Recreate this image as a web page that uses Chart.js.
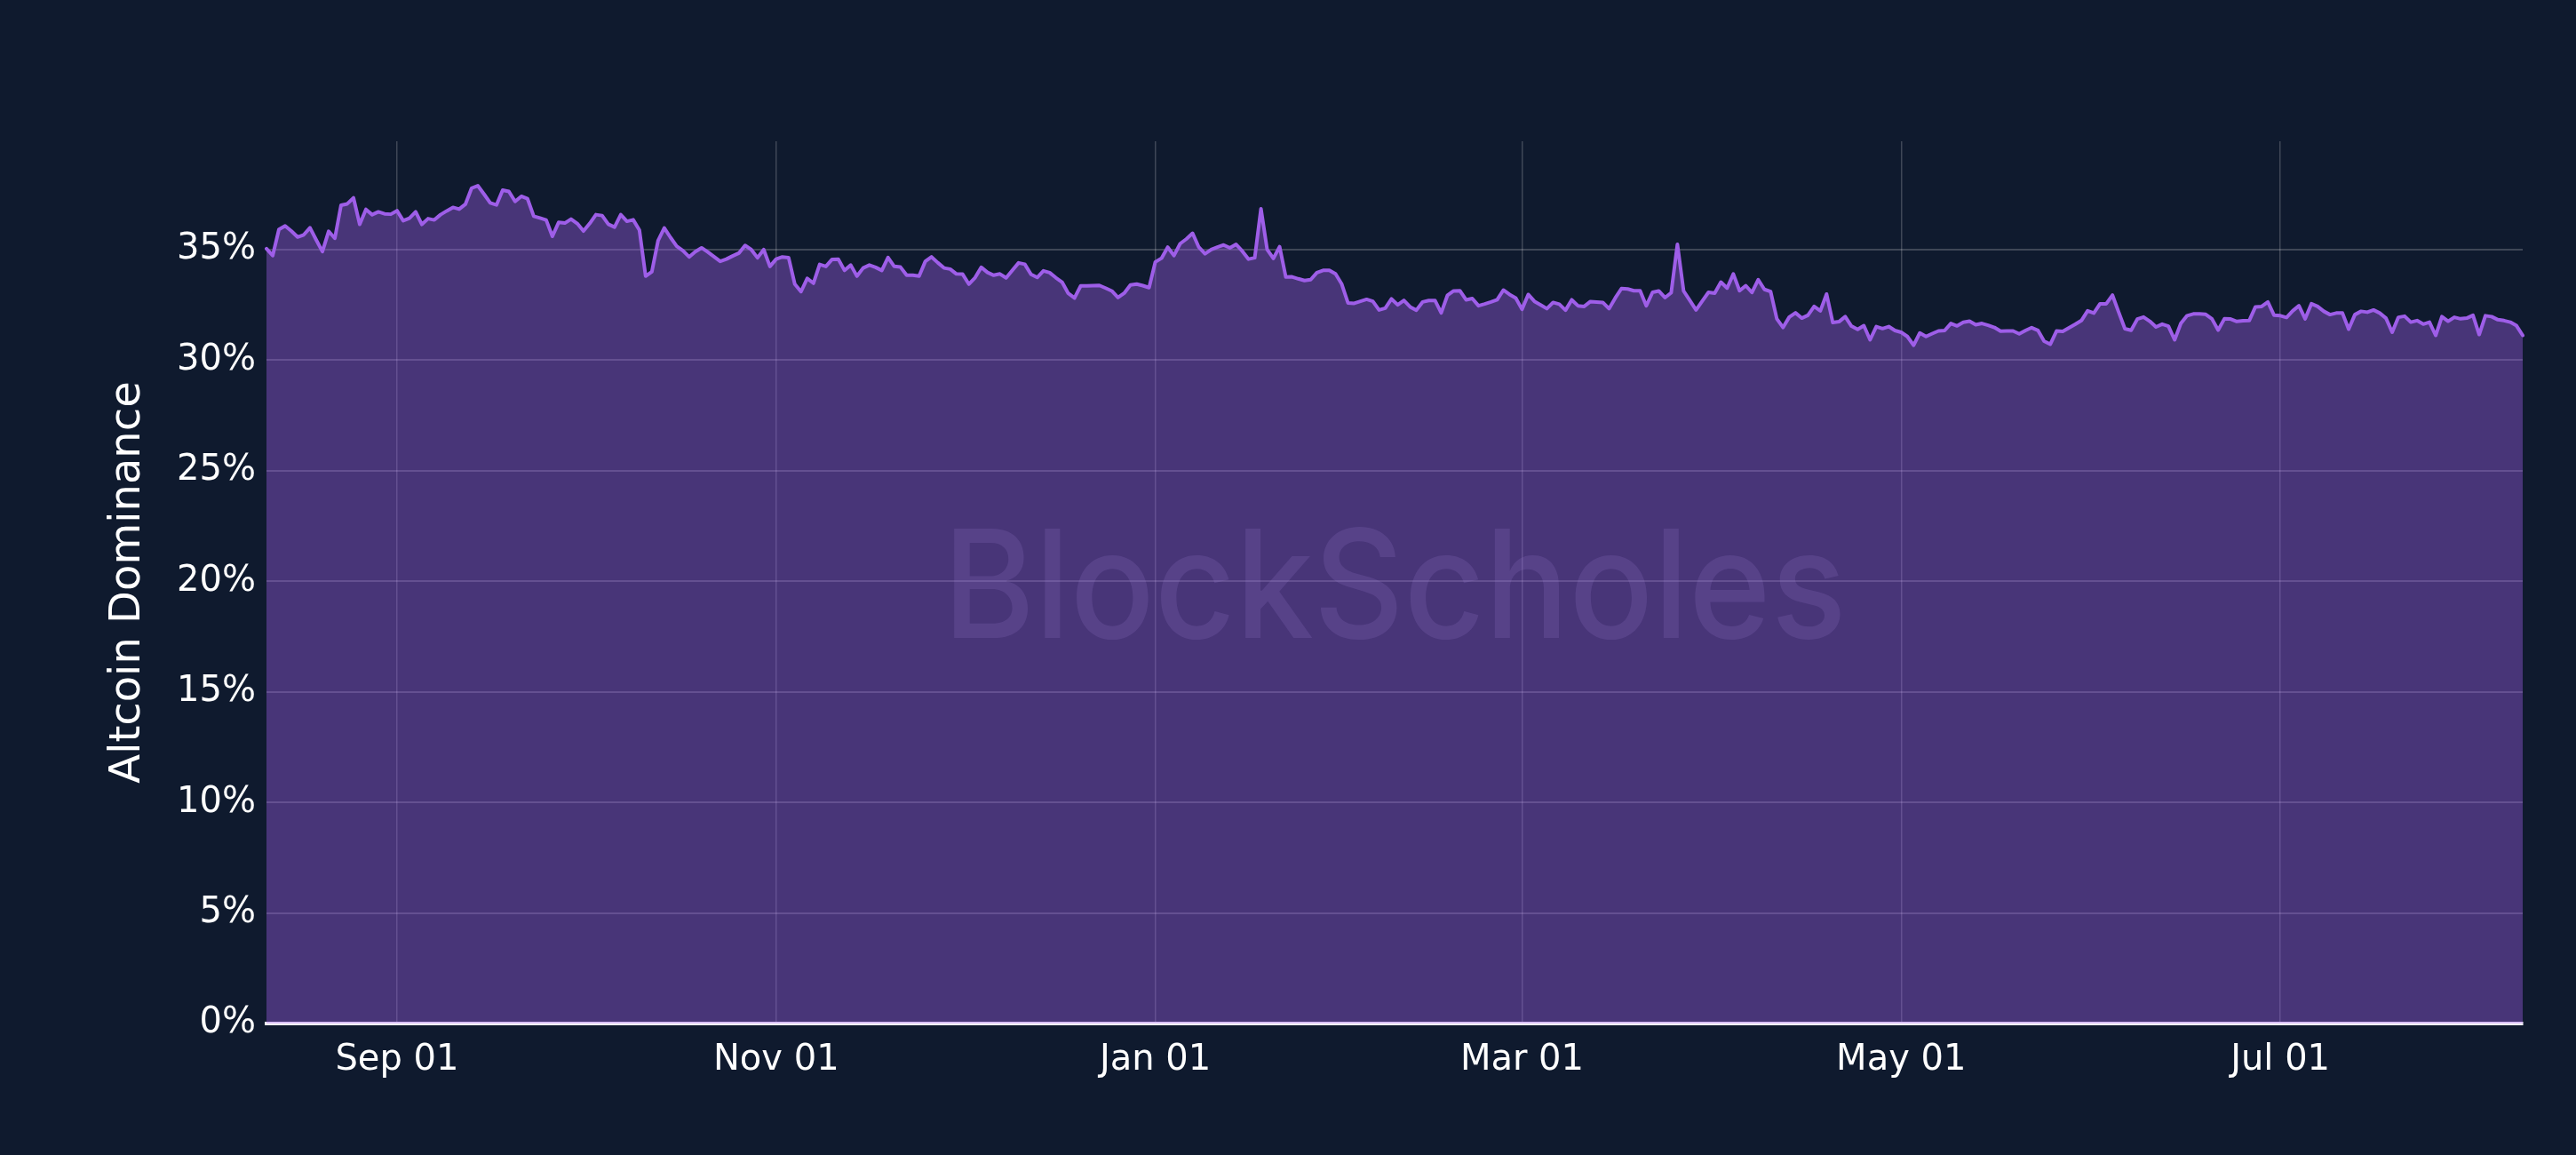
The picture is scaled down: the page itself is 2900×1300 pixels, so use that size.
<!DOCTYPE html>
<html>
<head>
<meta charset="utf-8">
<script src="https://cdn.jsdelivr.net/npm/chart.js@4.4.1/dist/chart.umd.min.js"></script>
<style>
  html, body { margin: 0; padding: 0; background: #0f1a2e; }
  #root { width: 2900px; height: 1300px; position: relative; }
</style>
</head>
<body>
<div id="root"><canvas id="myChart"></canvas></div>
<script>
// daily altcoin dominance (%), first day 2022-08-11
const startDate = '2022-08-11';

const domFromAug11 = [
  35.04, 34.73, 35.91, 36.07, 35.84, 35.57, 35.67, 35.99, 35.44, 34.91,
  35.83, 35.51, 37.01, 37.07, 37.34, 36.14, 36.82, 36.58, 36.71, 36.62,
  36.60, 36.76, 36.31, 36.42, 36.71, 36.14, 36.40, 36.34, 36.58, 36.75,
  36.91, 36.83, 37.05, 37.78, 37.89, 37.51, 37.11, 37.02, 37.69, 37.63,
  37.18, 37.41, 37.30, 36.51, 36.43, 36.34, 35.60, 36.23, 36.20, 36.38,
  36.18, 35.84,
];
const domFromOct02 = [
  36.18, 36.58, 36.54, 36.15, 36.02, 36.58, 36.28, 36.35, 35.88, 33.80,
  34.00, 35.40, 35.98, 35.55, 35.15, 34.95, 34.67, 34.91, 35.08, 34.89,
  34.68, 34.47, 34.57, 34.71, 34.84, 35.19, 35.00, 34.63, 35.00, 34.24,
  34.57, 34.67, 34.64, 33.44, 33.10, 33.70, 33.48, 34.33, 34.24, 34.56,
  34.57, 34.06, 34.30, 33.80, 34.17, 34.30, 34.20, 34.06, 34.64, 34.24,
  34.21, 33.84,
];
const domFromNov23 = [
  33.84, 33.80, 34.47, 34.67, 34.41, 34.17, 34.12, 33.90, 33.89, 33.44,
  33.73, 34.20, 33.97, 33.84, 33.90, 33.72, 34.06, 34.40, 34.34, 33.88,
  33.74, 34.04, 33.96, 33.73, 33.53, 33.02, 32.81, 33.36, 33.36, 33.37,
  33.38, 33.26, 33.13, 32.83, 33.03, 33.40, 33.44, 33.37, 33.28, 34.44,
  34.61, 35.11, 34.73, 35.27, 35.48, 35.74, 35.11, 34.81, 35.00, 35.11,
  35.21, 35.08,
];
const domFromJan14 = [
  35.24, 34.93, 34.57, 34.63, 36.85, 35.00, 34.60, 35.13, 33.76, 33.77,
  33.68, 33.60, 33.64, 33.96, 34.06, 34.06, 33.90, 33.44, 32.59, 32.57,
  32.66, 32.75, 32.66, 32.27, 32.35, 32.77, 32.50, 32.70, 32.41, 32.26,
  32.63, 32.70, 32.70, 32.14, 32.93, 33.13, 33.14, 32.73, 32.79, 32.46,
  32.54, 32.63, 32.73, 33.17, 32.97, 32.81, 32.30, 32.97, 32.66, 32.50,
  32.33, 32.61, 32.53,
];
const domFromMar08 = [
  32.26, 32.73, 32.46, 32.43, 32.65, 32.63, 32.61, 32.33, 32.81, 33.24,
  33.22, 33.14, 33.14, 32.46, 33.07, 33.13, 32.83, 33.05, 35.24, 33.13,
  32.70, 32.27, 32.67, 33.07, 33.03, 33.53, 33.26, 33.90, 33.14, 33.37,
  33.06, 33.64, 33.20, 33.10, 31.87, 31.48, 31.95, 32.14, 31.90, 32.03,
  32.43, 32.23, 32.99, 31.70, 31.74, 31.97, 31.54, 31.39, 31.56, 30.92,
  31.52, 31.43,
];
const domFromApr29 = [
  31.52, 31.34, 31.26, 31.07, 30.67, 31.23, 31.07, 31.20, 31.32, 31.34,
  31.66, 31.55, 31.71, 31.76, 31.60, 31.66, 31.58, 31.48, 31.31, 31.32,
  31.32, 31.19, 31.34, 31.47, 31.35, 30.86, 30.72, 31.32, 31.30, 31.46,
  31.62, 31.79, 32.23, 32.13, 32.55, 32.55, 32.94, 32.17, 31.42, 31.35,
  31.86, 31.95, 31.76, 31.50, 31.63, 31.54, 30.92, 31.66, 32.01, 32.09,
  32.09, 32.07,
];
const domFromJun20 = [
  31.87, 31.36, 31.87, 31.86, 31.75, 31.78, 31.79, 32.41, 32.43, 32.63,
  32.03, 32.01, 31.93, 32.23, 32.46, 31.87, 32.55, 32.43, 32.21, 32.06,
  32.13, 32.13, 31.40, 32.06, 32.21, 32.17, 32.27, 32.13, 31.90, 31.26,
  31.94, 31.99, 31.72, 31.79, 31.63, 31.72, 31.12, 31.97, 31.76, 31.94,
  31.87, 31.90, 32.03, 31.16, 32.01, 31.97, 31.83, 31.79, 31.72, 31.56,
  31.12,
];

const tickDates = ['2022-09-01', '2022-11-01', '2023-01-01', '2023-03-01', '2023-05-01', '2023-07-01'];
const tickLabels = ['Sep 01', 'Nov 01', 'Jan 01', 'Mar 01', 'May 01', 'Jul 01'];
const yTickStep = 5;
const yTitle = 'Altcoin Dominance';
const watermarkText = 'BlockScholes';

const values = [].concat(domFromAug11, domFromOct02, domFromNov23, domFromJan14,
  domFromMar08, domFromApr29, domFromJun20);

// one label per day
const labels = [];
const start = new Date(startDate + 'T00:00:00Z');
for (let i = 0; i < values.length; i += 1) {
  labels.push(new Date(start.getTime() + i * 86400000).toISOString().slice(0, 10));
}
const tickIndex = tickDates.map((d) => labels.indexOf(d));

const bg = '#0f1a2e';
const lineColor = 'rgb(158, 94, 232)';
const fillColor = 'rgba(158, 94, 232, 0.4)';
const gridColor = 'rgba(255, 255, 255, 0.2)';
const fontFamily = '"DejaVu Sans", Verdana, sans-serif';

const background = {
  id: 'background',
  beforeDraw(chart) {
    const { ctx, width, height } = chart;
    ctx.save();
    ctx.fillStyle = bg;
    ctx.fillRect(0, 0, width, height);
    ctx.restore();
  },
};

const watermark = {
  id: 'watermark',
  afterDatasetsDraw(chart) {
    const { ctx, chartArea } = chart;
    const cx = (chartArea.left + chartArea.right) / 2;
    const cy = (chartArea.top + chartArea.bottom) / 2;
    ctx.save();
    ctx.font = '500 169px Inter';
    const w = ctx.measureText(watermarkText).width;
    ctx.translate(cx, cy + 62);
    ctx.scale(1017 / w, 1);
    ctx.textAlign = 'center';
    ctx.textBaseline = 'alphabetic';
    ctx.fillStyle = 'rgba(165, 135, 225, 0.16)';
    ctx.fillText(watermarkText, 0, 0);
    ctx.restore();
  },
};

const ctx = document.getElementById('myChart').getContext('2d');
const myChart = new Chart(ctx, {
  type: 'line',
  data: {
    labels: labels,
    datasets: [{
      data: values,
      borderColor: lineColor,
      borderWidth: 4,
      borderJoinStyle: 'round',
      borderCapStyle: 'round',
      backgroundColor: fillColor,
      fill: 'origin',
      pointRadius: 0,
      tension: 0,
    }],
  },
  options: {
    responsive: true,
    maintainAspectRatio: false,
    animation: false,
    devicePixelRatio: 1,
    layout: { padding: { top: 159, right: 60, left: 0, bottom: 0 } },
    plugins: { legend: { display: false }, tooltip: { enabled: false } },
    scales: {
      x: {
        type: 'category',
        afterBuildTicks: (axis) => { axis.ticks = tickIndex.map((v) => ({ value: v })); },
        afterFit: (axis) => { axis.height = 148; },
        ticks: {
          autoSkip: false,
          maxRotation: 0,
          color: '#ffffff',
          font: { family: fontFamily, size: 40 },
          padding: 18,
          callback: (v, i) => tickLabels[i],
        },
        grid: { color: gridColor, lineWidth: 1.5, drawTicks: false },
        border: { display: true, color: '#ffffff', width: 4 },
      },
      y: {
        min: 0,
        max: 39.9,
        afterBuildTicks: (axis) => { axis.ticks = axis.ticks.filter((t) => t.value % yTickStep === 0); },
        afterFit: (axis) => { axis.width = 300; },
        ticks: {
          stepSize: yTickStep,
          color: '#ffffff',
          font: { family: fontFamily, size: 40 },
          padding: 12,
          callback: (v) => v + '%',
        },
        grid: {
          color: (c) => (c.tick && c.tick.value === 0 ? 'rgba(0,0,0,0)' : gridColor),
          lineWidth: 2,
          drawTicks: false,
        },
        border: { display: false },
        title: {
          display: true,
          text: yTitle,
          color: '#ffffff',
          font: { family: fontFamily, size: 48 },
          padding: { top: 116 },
        },
      },
    },
  },
  plugins: [background, watermark],
});
</script>
</body>
</html>
